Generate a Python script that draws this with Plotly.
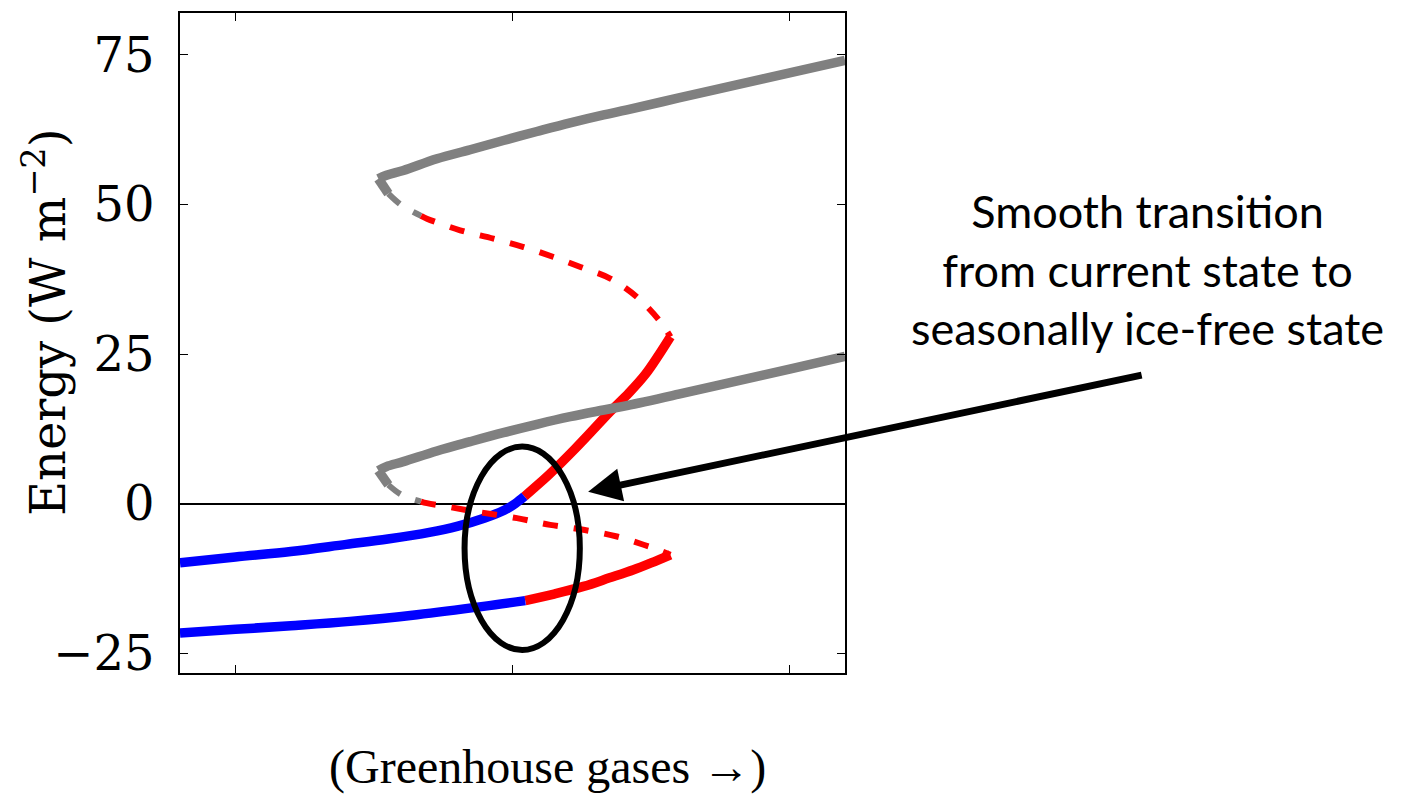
import plotly.graph_objects as go

# ---- data ----
# upper S-curve
up_fold_x = [0.516, 0.552]
up_fold_y = [54.3, 51.8]
up_gray_x = [0.516, 0.545, 0.606, 0.727, 0.847, 0.967, 1.088, 1.208, 1.329, 1.413, 1.60, 1.80, 2.00, 2.20]
up_gray_y = [54.3, 54.9, 55.69, 57.64, 59.14, 60.69, 62.2, 63.65, 64.98, 65.82, 67.8, 69.9, 72.0, 74.1]
up_gdash_x = [0.552, 0.60, 0.67]
up_gdash_y = [51.8, 49.85, 48.1]
up_rdash_x = [0.67, 0.691, 0.811, 0.931, 1.04, 1.148, 1.245, 1.353, 1.449, 1.534, 1.57]
up_rdash_y = [48.1, 47.63, 45.69, 44.29, 42.89, 41.22, 39.56, 37.62, 34.55, 30.38, 27.9]
up_red_x = [1.57, 1.53, 1.48, 1.42, 1.353, 1.29, 1.226, 1.13, 1.08, 1.043]
up_red_y = [27.9, 25.0, 21.65, 18.5, 15.42, 12.3, 9.18, 4.77, 2.7, 1.2]
up_blue_x = [1.043, 1.01, 0.97, 0.90, 0.80, 0.70, 0.55, 0.40, 0.20, 0.00, -0.20]
up_blue_y = [1.2, 0.0, -1.1, -2.4, -3.8, -4.8, -5.9, -6.8, -8.0, -8.9, -9.9]

# lower S-curve
lo_fold_x = [0.516, 0.552]
lo_fold_y = [5.52, 3.14]
lo_gray_x = [0.516, 0.545, 0.606, 0.727, 0.847, 0.967, 1.088, 1.208, 1.329, 1.413, 1.60, 1.80, 2.00, 2.20]
lo_gray_y = [5.52, 6.2, 7.02, 8.81, 10.36, 11.86, 13.26, 14.53, 15.65, 16.4, 18.3, 20.4, 22.5, 24.6]
lo_gdash_x = [0.552, 0.60, 0.67]
lo_gdash_y = [3.14, 1.47, 0.35]
lo_rdash_x = [0.67, 0.691, 0.763, 0.85, 1.016, 1.136, 1.256, 1.377, 1.473, 1.509, 1.57]
lo_rdash_y = [0.35, 0.08, -0.48, -1.2, -2.42, -3.54, -4.37, -5.49, -6.87, -7.43, -8.54]
lo_red_x = [1.57, 1.50, 1.437, 1.35, 1.256, 1.15, 1.046]
lo_red_y = [-8.54, -9.9, -11.04, -12.4, -13.83, -15.1, -16.2]
lo_blue_x = [1.046, 0.895, 0.655, 0.414, 0.20, 0.00, -0.20]
lo_blue_y = [-16.2, -17.17, -18.55, -19.67, -20.4, -21.0, -21.6]

y_tick_vals = [-25, 0, 25, 50, 75]
y_tick_text = ["\u221225", "0", "25", "50", "75"]
x_tick_vals = [0, 1, 2]

GRAY = "#808080"
RED = "#ff0000"
BLUE = "#0000ff"
SOLID_W = 9.5
DASH_W = 6
DASH = "15px,16px"

fig = go.Figure()

def add(x, y, color, width, dash="solid", shape="spline"):
    fig.add_trace(go.Scatter(x=x, y=y, mode="lines",
                             line=dict(color=color, width=width, dash=dash,
                                       shape=shape, smoothing=1.0),
                             showlegend=False, hoverinfo="skip"))

for fx, fy, gx, gy, gdx, gdy, rdx, rdy, rx, ry, bx, by in [
    (up_fold_x, up_fold_y, up_gray_x, up_gray_y, up_gdash_x, up_gdash_y,
     up_rdash_x, up_rdash_y, up_red_x, up_red_y, up_blue_x, up_blue_y),
    (lo_fold_x, lo_fold_y, lo_gray_x, lo_gray_y, lo_gdash_x, lo_gdash_y,
     lo_rdash_x, lo_rdash_y, lo_red_x, lo_red_y, lo_blue_x, lo_blue_y),
]:
    add(gdx, gdy, GRAY, DASH_W, DASH)
    add(rdx, rdy, RED, DASH_W, DASH)
    add(fx, fy, GRAY, SOLID_W, shape="linear")
    add(gx, gy, GRAY, SOLID_W)
    add(rx, ry, RED, SOLID_W)
    add(bx, by, BLUE, SOLID_W)

fig.update_layout(
    width=1402, height=794,
    margin=dict(l=180, r=557, t=11, b=121),
    paper_bgcolor="white", plot_bgcolor="white",
    xaxis=dict(range=[-0.2, 2.2], tickvals=x_tick_vals, showticklabels=False,
               ticks="inside", ticklen=8, tickwidth=1.2, tickcolor="black",
               showline=True, linecolor="black", linewidth=1.5, mirror="ticks",
               showgrid=False, zeroline=False),
    yaxis=dict(range=[-28.3, 82.0], tickvals=y_tick_vals, ticktext=y_tick_text,
               ticks="inside", ticklen=8, tickwidth=1.2, tickcolor="black",
               showline=True, linecolor="black", linewidth=1.5, mirror="ticks",
               showgrid=False, zeroline=True, zerolinecolor="black", zerolinewidth=1.5,
               tickfont=dict(family="DejaVu Serif", size=48, color="black"),
               ticklabelstandoff=14),
)

# ellipse
fig.add_shape(type="circle", xref="x", yref="y", x0=0.827, x1=1.243, y0=-24.46, y1=9.54,
              line=dict(color="black", width=6))

# arrow
fig.add_annotation(x=1.273, y=1.97, xref="x", yref="y", ax=555, ay=-117,
                   text="", showarrow=True, arrowhead=2, arrowsize=0.95,
                   arrowwidth=7, arrowcolor="black")

# texts
fig.add_annotation(xref="paper", yref="paper", x=(45 - 180) / 665, y=(673 - 322) / 662,
                   text="Energy (W m<sup>\u22122</sup>)", textangle=-90, showarrow=False,
                   xanchor="center", yanchor="middle",
                   font=dict(family="DejaVu Serif", size=48, color="black"))
fig.add_annotation(xref="paper", yref="paper", x=(547.5 - 180) / 665, y=(673 - 767) / 662,
                   text="(Greenhouse gases \u2192)", showarrow=False,
                   xanchor="center", yanchor="middle",
                   font=dict(family="Liberation Serif", size=48, color="black"))
fig.add_annotation(xref="paper", yref="paper", x=(1147 - 180) / 665, y=(673 - 268) / 662,
                   text="Smooth transition<br>from current state to<br>seasonally ice-free state",
                   showarrow=False, xanchor="center", yanchor="middle", align="center",
                   font=dict(family="Lato", size=45, color="black"))

fig.write_html("out.html")
